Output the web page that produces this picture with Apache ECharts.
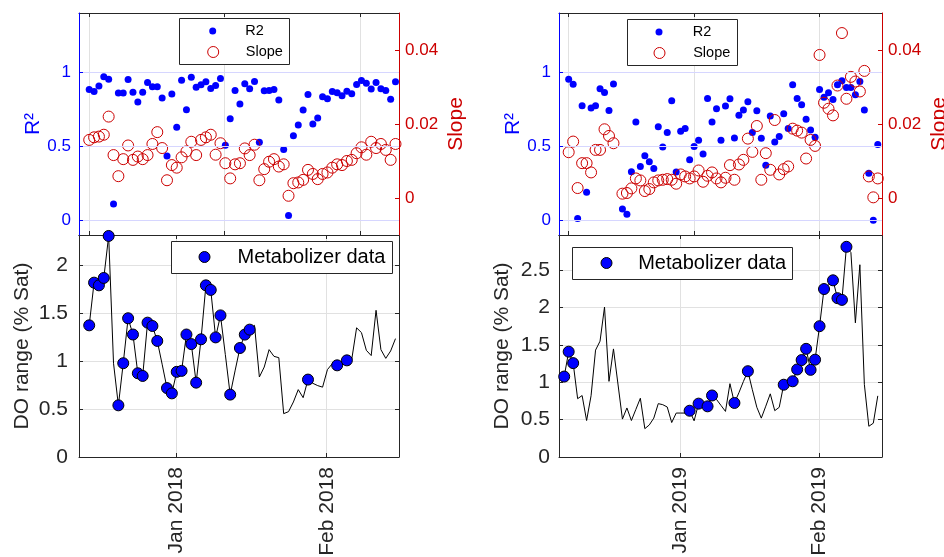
<!DOCTYPE html>
<html>
<head>
<meta charset="utf-8">
<script src="https://cdn.jsdelivr.net/npm/echarts@6/dist/echarts.min.js"></script>
<style>html,body{margin:0;padding:0;background:#fff}#c{width:944px;height:557px}</style>
</head>
<body>
<div id="c"></div>
<script>
// ================= DATA =================
// Left panel: daily samples, day 0 = 1 Jan 2018
const leftStartDay = -17.85;
const leftR2 = [0.883,0.870,0.906,0.969,0.953,0.110,0.859,0.859,0.951,0.865,
  0.798,0.865,0.930,0.901,0.901,0.825,0.433,0.852,0.628,0.946,
  0.747,0.966,0.899,0.915,0.935,0.890,0.910,0.957,0.507,0.686,
  0.877,0.785,0.922,0.888,0.937,0.527,0.874,0.877,0.883,0.812,
  0.478,0.031,0.570,0.643,0.744,0.850,0.650,0.691,0.834,0.821,
  0.870,0.861,0.841,0.872,0.854,0.917,0.944,0.926,0.886,0.930,
  0.888,0.877,0.818,0.935];
const leftSlope = [0.0157,0.0164,0.0166,0.0171,0.0220,0.0116,0.0059,0.0105,0.0142,0.0103,
  0.0112,0.0105,0.0116,0.0146,0.0178,0.0135,0.0048,0.0089,0.0082,0.0110,
  0.0126,0.0152,0.0116,0.0157,0.0164,0.0171,0.0117,0.0148,0.0094,0.0053,
  0.0091,0.0094,0.0134,0.0116,0.0144,0.0048,0.0078,0.0098,0.0105,0.0085,
  0.0091,0.0006,0.0040,0.0042,0.0049,0.0076,0.0065,0.0051,0.0065,0.0069,
  0.0082,0.0091,0.0089,0.0100,0.0103,0.0121,0.0137,0.0117,0.0152,0.0135,
  0.0146,0.0130,0.0103,0.0146];
const leftDO = [1.376,1.822,1.794,1.871,2.31,0.98,0.54,0.98,1.45,1.28,
  0.875,0.847,1.404,1.369,1.213,0.97,0.72,0.665,0.89,0.90,
  1.28,1.18,0.777,1.23,1.794,1.746,1.25,1.48,1.07,0.652,
  0.90,1.139,1.279,1.331,1.376,0.836,0.94,1.122,1.052,1.038,
  0.453,0.474,0.575,0.704,0.62,0.809,0.77,0.746,0.73,0.913,
  0.976,0.958,0.98,1.01,1.02,1.35,1.30,1.115,1.06,1.533,
  1.122,1.031,1.108,1.237];
const leftMarkerIdx = [0,1,2,3,4,6,7,8,9,10,11,12,13,14,16,17,18,19,20,21,22,23,24,25,26,27,29,31,32,33,45,51,53];
const leftDateTicks = [0, 31];
const leftDateLabels = ['Jan 2018', 'Feb 2018'];
const leftTopTicks = [-17.9, 9.9, 38.0];

// Right panel: daily samples, day 0 = 1 Jan 2019
const rightTopStartDay = -24.94;
const rightBottomStartDay = -25.94;
const rightR2 = [0.953,0.919,0.011,0.774,0.189,0.758,0.774,0.888,0.863,0.742,
  0.921,null,0.076,0.040,0.327,0.664,0.363,0.435,0.395,0.350,
  0.632,0.495,0.592,0.807,0.325,0.601,0.619,0.408,0.498,0.540,
  0.448,0.823,0.664,0.753,0.540,0.771,0.821,0.556,0.709,0.744,
  0.800,0.592,0.740,0.554,0.372,0.704,0.529,0.565,0.720,0.619,
  0.915,0.823,0.780,0.682,0.610,0.561,0.883,0.830,0.861,0.816,
  0.915,0.942,0.897,0.897,0.848,0.937,0.744,0.318,0.000,0.511];
const rightSlope = [0.01238,0.01525,0.00269,0.00942,0.00942,0.00691,0.01300,0.01300,0.01857,0.01677,
  0.01480,null,0.00117,0.00135,0.00260,0.00529,0.00475,0.00188,0.00242,0.00422,
  0.00475,0.00493,0.00511,0.00493,0.00386,0.00637,0.00583,0.00529,0.00583,0.00744,
  0.00439,0.00601,0.00691,0.00529,0.00422,0.00547,0.00888,0.00493,0.00906,0.01031,
  0.01605,0.01247,0.01946,0.00493,0.01211,0.00762,0.02108,0.00637,0.00780,0.00852,
  0.01874,0.01821,0.01767,0.01067,0.01570,0.01408,0.03866,0.02574,0.02413,0.02233,
  0.03040,0.04458,0.02682,0.03274,0.03148,0.02879,0.03435,0.00583,0.00018,0.00529];
const rightDO = [1.076,1.409,1.256,0.78,0.822,0.488,0.82,1.43,1.55,2.006,
  1.012,1.446,0.976,0.507,0.656,0.488,0.637,0.786,0.379,0.429,
  0.520,0.714,0.700,0.669,0.461,0.588,0.588,0.588,0.619,0.484,
  0.714,0.70,0.678,0.823,0.77,0.69,0.610,0.981,0.723,0.86,
  1.01,1.148,0.90,0.665,0.52,0.68,0.845,0.62,0.665,0.967,
  0.99,1.013,1.171,1.297,1.447,1.166,1.302,1.750,2.247,2.30,
  2.364,2.125,2.102,2.812,2.735,1.795,2.572,0.972,0.411,0.452,0.818];
const rightMarkerIdx = [0,1,2,28,30,32,33,38,41,49,51,52,53,54,55,56,57,58,60,61,62,63];
const rightDateTicks = [0, 31];
const rightDateLabels = ['Jan 2019', 'Feb 2019'];
const rightTopTicks = [-25, 3, 31];

const r2Ticks = [0, 0.5, 1];
const slopeTicks = [0, 0.02, 0.04];
const leftDOTicks = [0, 0.5, 1, 1.5, 2];
const rightDOTicks = [0, 0.5, 1, 1.5, 2, 2.5];

// ================= STYLE / LAYOUT =================
const FONT = 'Liberation Sans, Arial, Helvetica, sans-serif';
const DARK = '#262626';
const BLUE = '#0000ff';
const RED = '#cc0000';
const GRID_GRAY = '#e1e1e1';
const GRID_BLUE = '#d6d6ff';

const leftXRange = [-19.95, 45.87];
const rightXRange = [-27.1, 45.0];
const r2Range = [-0.1, 1.4];
const slopeRange = [-0.01, 0.05];
const leftDORange = [0, 2.32];
const rightDORange = [0, 2.97];

const toPts = (arr, start) => arr.map((v, i) => [start + i, v]).filter(p => p[1] !== null);
const markPts = (idx, arr, start) => idx.map(i => [start + i, arr[i]]);

function xPair(gridIndex, range, ticks, labels, lineColor) {
  const common = {
    type: 'value', gridIndex, min: range[0], max: range[1],
    axisLine: { show: true, onZero: false, lineStyle: { color: lineColor, width: 1 } },
    axisTick: { show: true, inside: true, length: 4, customValues: ticks, lineStyle: { color: DARK } }
  };
  const bottom = Object.assign({}, common, {
    position: 'bottom',
    axisLabel: labels ? {
      show: true, customValues: ticks, rotate: 90, margin: 10, fontSize: 21, fontFamily: FONT, color: DARK,
      formatter: v => { const k = ticks.findIndex(t => Math.abs(t - v) < 1e-6); return k >= 0 ? labels[k] : ''; }
    } : { show: false, customValues: ticks },
    splitLine: { show: true, lineStyle: { color: GRID_GRAY, width: 1 } }
  });
  const top = Object.assign({}, common, {
    position: 'top', axisLabel: { show: false }, splitLine: { show: false }
  });
  return [bottom, top];
}

function yTop(gridIndex) {
  return [
    { type: 'value', gridIndex, position: 'left', min: r2Range[0], max: r2Range[1], z: 5,
      axisLine: { show: true, onZero: false, lineStyle: { color: BLUE, width: 1 } },
      axisTick: { show: true, inside: true, length: 4, customValues: r2Ticks, lineStyle: { color: BLUE } },
      axisLabel: { customValues: r2Ticks, color: BLUE, fontSize: 17, margin: 8, fontFamily: FONT, formatter: v => String(v) },
      splitLine: { show: true, lineStyle: { color: GRID_BLUE, width: 1 } },
      name: 'R²', nameLocation: 'middle', nameGap: 28,
      nameTextStyle: { color: BLUE, fontSize: 21, fontFamily: FONT } },
    { type: 'value', gridIndex, position: 'right', min: slopeRange[0], max: slopeRange[1], z: 5,
      axisLine: { show: true, onZero: false, lineStyle: { color: RED, width: 1 } },
      axisTick: { show: true, inside: true, length: 4, customValues: slopeTicks, lineStyle: { color: RED } },
      axisLabel: { customValues: slopeTicks, color: RED, fontSize: 17, margin: 6, fontFamily: FONT, formatter: v => String(v) },
      splitLine: { show: false },
      name: 'Slope', nameLocation: 'middle', nameGap: 47,
      nameTextStyle: { color: RED, fontSize: 21, fontFamily: FONT } }
  ];
}

function yBottom(gridIndex, range, ticks, margin) {
  return [
    { type: 'value', gridIndex, position: 'left', min: range[0], max: range[1],
      axisLine: { show: true, onZero: false, lineStyle: { color: DARK, width: 1 } },
      axisTick: { show: true, inside: true, length: 4, customValues: ticks, lineStyle: { color: DARK } },
      axisLabel: { customValues: ticks, color: DARK, fontSize: 21, margin, fontFamily: FONT, formatter: v => String(v) },
      splitLine: { show: true, lineStyle: { color: GRID_GRAY, width: 1 } },
      name: 'DO range (% Sat)', nameLocation: 'middle', nameGap: 46,
      nameTextStyle: { color: DARK, fontSize: 21, fontFamily: FONT } },
    { type: 'value', gridIndex, position: 'right', min: range[0], max: range[1],
      axisLine: { show: true, onZero: false, lineStyle: { color: DARK, width: 1 } },
      axisTick: { show: true, inside: true, length: 4, customValues: ticks, lineStyle: { color: DARK } },
      axisLabel: { show: false, customValues: ticks },
      splitLine: { show: false } }
  ];
}

// one-item legend: icon of diameter d, left edge at `left`, text pushed right by `pad`
function legendOne(name, left, top, d, pad, fontSize, lineHeight, itemStyle) {
  return { show: true, data: [name], left, top, orient: 'horizontal', align: 'left', padding: 0,
    itemWidth: d, itemHeight: d, itemGap: 0, selectedMode: false, icon: 'circle', z: 10,
    itemStyle, textStyle: { fontSize, lineHeight, fontFamily: FONT, color: '#000', padding: [0, 0, 0, pad] } };
}

const r2Style = { color: BLUE, borderWidth: 0, opacity: 1 };
const slopeStyle = { color: 'rgba(255,255,255,0)', borderColor: RED, borderWidth: 1, opacity: 1 };
const metStyle = { color: BLUE, borderColor: '#000', borderWidth: 1, opacity: 1 };

const boxStyle = { fill: '#fff', stroke: DARK, lineWidth: 1 };

const option = {
  animation: false,
  backgroundColor: '#fff',
  grid: [
    { left: 79, top: 13, width: 320, height: 222, outerBoundsMode: 'none' },
    { left: 79, top: 235, width: 320, height: 222, outerBoundsMode: 'none' },
    { left: 559, top: 13, width: 323, height: 222, outerBoundsMode: 'none' },
    { left: 559, top: 235, width: 323, height: 222, outerBoundsMode: 'none' }
  ],
  xAxis: [
    ...xPair(0, leftXRange, leftTopTicks, null, DARK),
    ...xPair(1, leftXRange, leftDateTicks, leftDateLabels, DARK),
    ...xPair(2, rightXRange, rightTopTicks, null, DARK),
    ...xPair(3, rightXRange, rightDateTicks, rightDateLabels, DARK)
  ],
  yAxis: [
    ...yTop(0),
    ...yBottom(1, leftDORange, leftDOTicks, 11),
    ...yTop(2),
    ...yBottom(3, rightDORange, rightDOTicks, 9)
  ],
  legend: [
    legendOne('R2', 209.2, 23, 7, 24.1, 14.5, 16, r2Style),
    legendOne('Slope', 207.2, 44, 11, 22.1, 14.5, 16, slopeStyle),
    legendOne('R2', 655.5, 24, 7, 25.2, 14.5, 16, r2Style),
    legendOne('Slope', 653.5, 45, 11, 23.2, 14.5, 16, slopeStyle),
    legendOne('Metabolizer data', 198.5, 246, 11, 22.5, 20, 22, metStyle),
    legendOne('Metabolizer data', 600.5, 252, 11, 21.2, 20, 22, metStyle)
  ],
  graphic: [
    { type: 'rect', z: 8, shape: { x: 179.5, y: 18.5, width: 110, height: 46 }, style: boxStyle },
    { type: 'rect', z: 8, shape: { x: 627.5, y: 19.5, width: 110, height: 46 }, style: boxStyle },
    { type: 'rect', z: 8, shape: { x: 171.5, y: 241.5, width: 221, height: 32 }, style: boxStyle },
    { type: 'rect', z: 8, shape: { x: 572.5, y: 247.5, width: 220, height: 32 }, style: boxStyle }
  ],
  series: [
    { type: 'scatter', name: 'R2', xAxisIndex: 0, yAxisIndex: 0, symbol: 'circle', symbolSize: 7,
      itemStyle: r2Style, data: toPts(leftR2, leftStartDay), z: 2 },
    { type: 'scatter', name: 'Slope', xAxisIndex: 0, yAxisIndex: 1, symbol: 'circle', symbolSize: 11,
      itemStyle: slopeStyle, data: toPts(leftSlope, leftStartDay), z: 3 },
    { type: 'line', name: 'DO range', xAxisIndex: 2, yAxisIndex: 2, showSymbol: false, symbol: 'none',
      lineStyle: { color: '#000', width: 1 }, data: toPts(leftDO, leftStartDay), z: 2, silent: true },
    { type: 'scatter', name: 'Metabolizer data', xAxisIndex: 2, yAxisIndex: 2, symbol: 'circle', symbolSize: 11,
      itemStyle: metStyle, data: markPts(leftMarkerIdx, leftDO, leftStartDay), z: 3 },
    { type: 'scatter', name: 'R2', xAxisIndex: 4, yAxisIndex: 4, symbol: 'circle', symbolSize: 7,
      itemStyle: r2Style, data: toPts(rightR2, rightTopStartDay), z: 2 },
    { type: 'scatter', name: 'Slope', xAxisIndex: 4, yAxisIndex: 5, symbol: 'circle', symbolSize: 11,
      itemStyle: slopeStyle, data: toPts(rightSlope, rightTopStartDay), z: 3 },
    { type: 'line', name: 'DO range', xAxisIndex: 6, yAxisIndex: 6, showSymbol: false, symbol: 'none',
      lineStyle: { color: '#000', width: 1 }, data: toPts(rightDO, rightBottomStartDay), z: 2, silent: true },
    { type: 'scatter', name: 'Metabolizer data', xAxisIndex: 6, yAxisIndex: 6, symbol: 'circle', symbolSize: 11,
      itemStyle: metStyle, data: markPts(rightMarkerIdx, rightDO, rightBottomStartDay), z: 3 }
  ]
};

const chart = echarts.init(document.getElementById('c'), null, { renderer: 'canvas' });
chart.setOption(option);
</script>
</body>
</html>
